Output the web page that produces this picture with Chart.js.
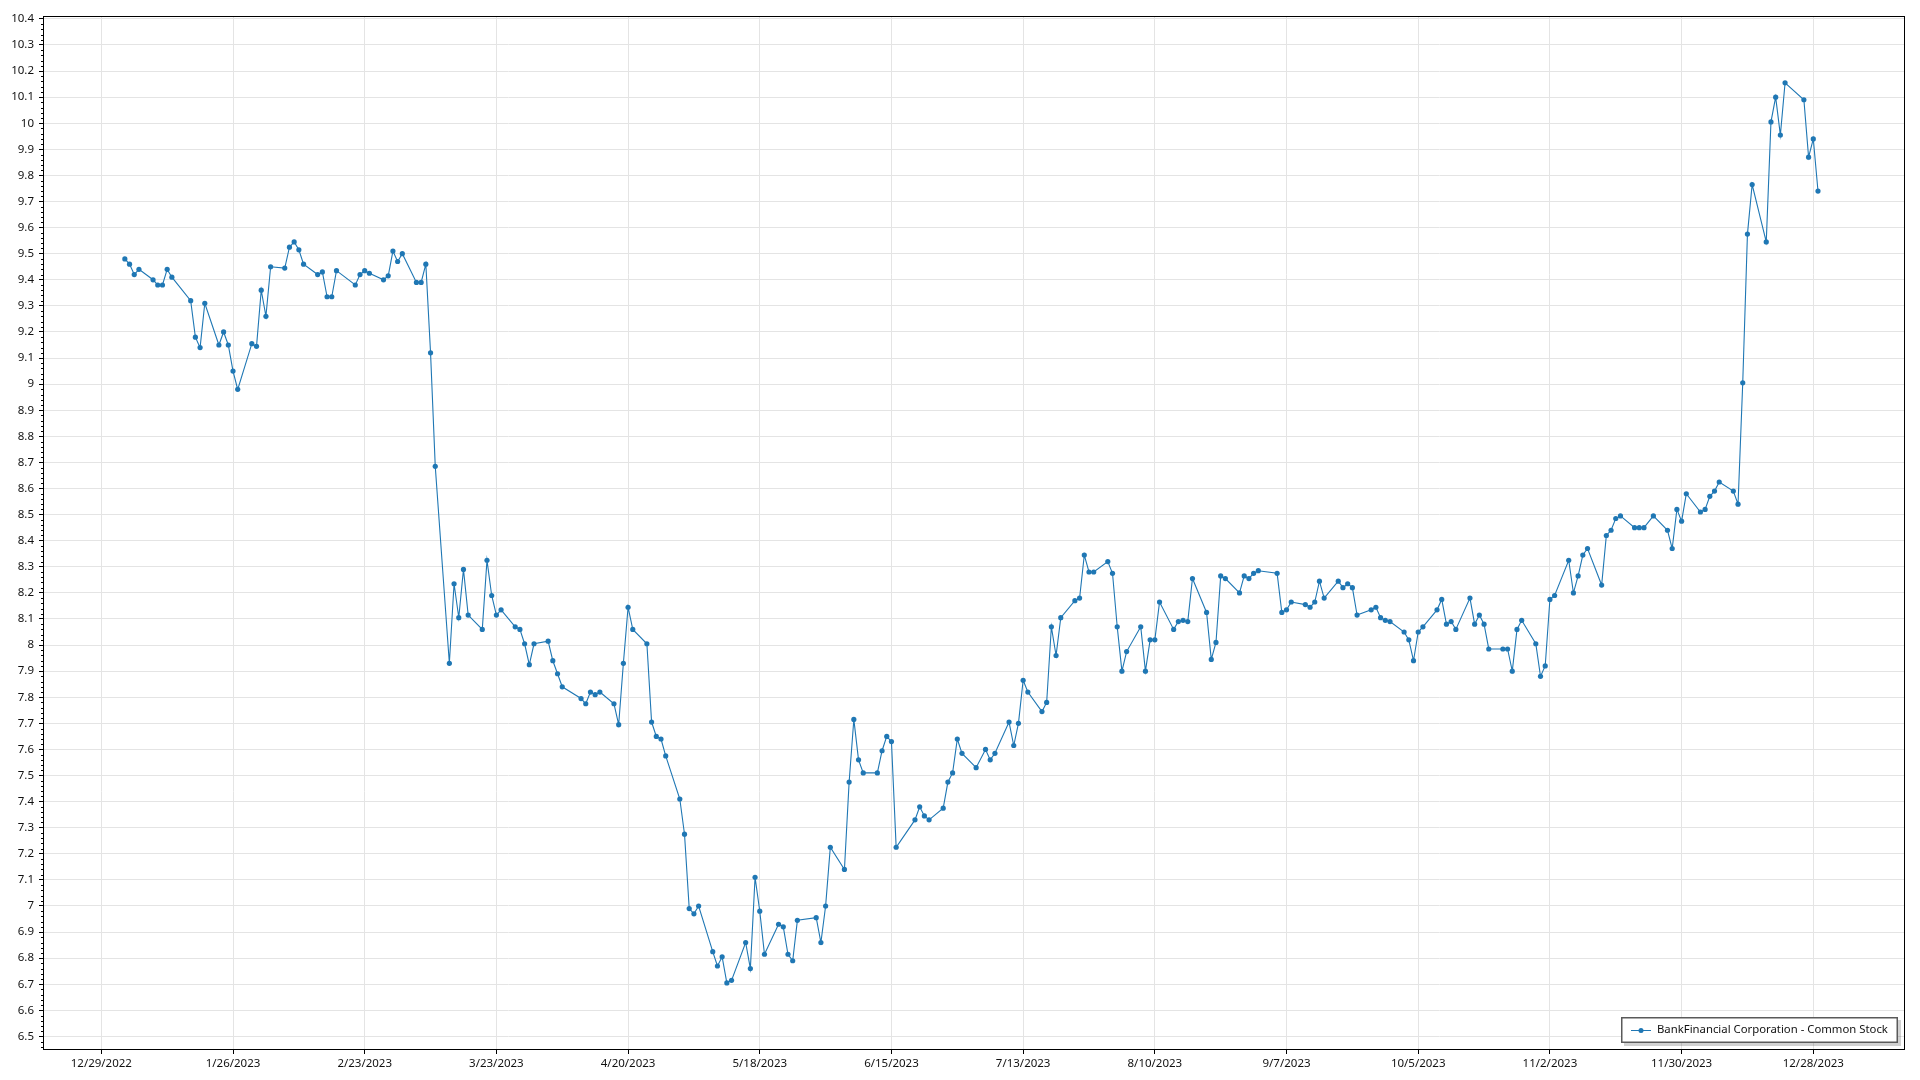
<!DOCTYPE html>
<html>
<head>
<meta charset="utf-8">
<script src="https://cdn.jsdelivr.net/npm/chart.js@4.4.0/dist/chart.umd.min.js"></script>
<style>
  html, body { margin: 0; padding: 0; background: #fff; }
  #wrap { width: 1920px; height: 1080px; }
</style>
</head>
<body>
<div id="wrap"><canvas id="grafico" width="1920" height="1080"></canvas></div>
<script>
const seriesLabel = "BankFinancial Corporation - Common Stock";

const dates = [
  "2023-01-03","2023-01-04","2023-01-05","2023-01-06","2023-01-09","2023-01-10","2023-01-11","2023-01-12","2023-01-13",
  "2023-01-17","2023-01-18","2023-01-19","2023-01-20","2023-01-23","2023-01-24","2023-01-25","2023-01-26","2023-01-27",
  "2023-01-30","2023-01-31","2023-02-01","2023-02-02","2023-02-03","2023-02-06","2023-02-07","2023-02-08","2023-02-09",
  "2023-02-10","2023-02-13","2023-02-14","2023-02-15","2023-02-16","2023-02-17","2023-02-21","2023-02-22","2023-02-23",
  "2023-02-24","2023-02-27","2023-02-28","2023-03-01","2023-03-02","2023-03-03","2023-03-06","2023-03-07","2023-03-08",
  "2023-03-09","2023-03-10","2023-03-13","2023-03-14","2023-03-15","2023-03-16","2023-03-17","2023-03-20","2023-03-21",
  "2023-03-22","2023-03-23","2023-03-24","2023-03-27","2023-03-28","2023-03-29","2023-03-30","2023-03-31","2023-04-03",
  "2023-04-04","2023-04-05","2023-04-06","2023-04-10","2023-04-11","2023-04-12","2023-04-13","2023-04-14","2023-04-17",
  "2023-04-18","2023-04-19","2023-04-20","2023-04-21","2023-04-24","2023-04-25","2023-04-26","2023-04-27","2023-04-28",
  "2023-05-01","2023-05-02","2023-05-03","2023-05-04","2023-05-05","2023-05-08","2023-05-09","2023-05-10","2023-05-11",
  "2023-05-12","2023-05-15","2023-05-16","2023-05-17","2023-05-18","2023-05-19","2023-05-22","2023-05-23","2023-05-24",
  "2023-05-25","2023-05-26","2023-05-30","2023-05-31","2023-06-01","2023-06-02","2023-06-05","2023-06-06","2023-06-07",
  "2023-06-08","2023-06-09","2023-06-12","2023-06-13","2023-06-14","2023-06-15","2023-06-16","2023-06-20","2023-06-21",
  "2023-06-22","2023-06-23","2023-06-26","2023-06-27","2023-06-28","2023-06-29","2023-06-30","2023-07-03","2023-07-05",
  "2023-07-06","2023-07-07","2023-07-10","2023-07-11","2023-07-12","2023-07-13","2023-07-14","2023-07-17","2023-07-18",
  "2023-07-19","2023-07-20","2023-07-21","2023-07-24","2023-07-25","2023-07-26","2023-07-27","2023-07-28","2023-07-31",
  "2023-08-01","2023-08-02","2023-08-03","2023-08-04","2023-08-07","2023-08-08","2023-08-09","2023-08-10","2023-08-11",
  "2023-08-14","2023-08-15","2023-08-16","2023-08-17","2023-08-18","2023-08-21","2023-08-22","2023-08-23","2023-08-24",
  "2023-08-25","2023-08-28","2023-08-29","2023-08-30","2023-08-31","2023-09-01","2023-09-05","2023-09-06","2023-09-07",
  "2023-09-08","2023-09-11","2023-09-12","2023-09-13","2023-09-14","2023-09-15","2023-09-18","2023-09-19","2023-09-20",
  "2023-09-21","2023-09-22","2023-09-25","2023-09-26","2023-09-27","2023-09-28","2023-09-29","2023-10-02","2023-10-03",
  "2023-10-04","2023-10-05","2023-10-06","2023-10-09","2023-10-10","2023-10-11","2023-10-12","2023-10-13","2023-10-16",
  "2023-10-17","2023-10-18","2023-10-19","2023-10-20","2023-10-23","2023-10-24","2023-10-25","2023-10-26","2023-10-27",
  "2023-10-30","2023-10-31","2023-11-01","2023-11-02","2023-11-03","2023-11-06","2023-11-07","2023-11-08","2023-11-09",
  "2023-11-10","2023-11-13","2023-11-14","2023-11-15","2023-11-16","2023-11-17","2023-11-20","2023-11-21","2023-11-22",
  "2023-11-24","2023-11-27","2023-11-28","2023-11-29","2023-11-30","2023-12-01","2023-12-04","2023-12-05","2023-12-06",
  "2023-12-07","2023-12-08","2023-12-11","2023-12-12","2023-12-13","2023-12-14","2023-12-15","2023-12-18","2023-12-19",
  "2023-12-20","2023-12-21","2023-12-22","2023-12-26","2023-12-27","2023-12-28","2023-12-29"
];

const prices = [
  9.48, 9.46, 9.42, 9.44, 9.40, 9.38, 9.38, 9.44, 9.41,
  9.32, 9.18, 9.14, 9.31, 9.15, 9.20, 9.15, 9.05, 8.98,
  9.155, 9.145, 9.36, 9.26, 9.45, 9.445, 9.525, 9.545, 9.515,
  9.46, 9.42, 9.43, 9.335, 9.335, 9.435, 9.38, 9.42, 9.435,
  9.425, 9.40, 9.415, 9.51, 9.47, 9.50, 9.39, 9.39, 9.46,
  9.12, 8.685, 7.93, 8.235, 8.105, 8.29, 8.115, 8.06, 8.325,
  8.19, 8.115, 8.135, 8.07, 8.06, 8.005, 7.925, 8.005, 8.015,
  7.94, 7.89, 7.84, 7.795, 7.775, 7.82, 7.81, 7.82, 7.775,
  7.695, 7.93, 8.145, 8.06, 8.005, 7.705, 7.65, 7.64, 7.575,
  7.41, 7.275, 6.99, 6.97, 7.00, 6.825, 6.77, 6.805, 6.705,
  6.715, 6.86, 6.76, 7.11, 6.98, 6.815, 6.93, 6.92, 6.815,
  6.79, 6.945, 6.955, 6.86, 7.00, 7.225, 7.14, 7.475, 7.715,
  7.56, 7.51, 7.51, 7.595, 7.65, 7.63, 7.225, 7.33, 7.38,
  7.345, 7.33, 7.375, 7.475, 7.51, 7.64, 7.585, 7.53, 7.60,
  7.56, 7.585, 7.705, 7.615, 7.70, 7.865, 7.82, 7.745, 7.78,
  8.07, 7.96, 8.105, 8.17, 8.18, 8.345, 8.28, 8.28, 8.32,
  8.275, 8.07, 7.90, 7.975, 8.07, 7.90, 8.02, 8.02, 8.165,
  8.06, 8.09, 8.095, 8.09, 8.255, 8.125, 7.945, 8.01, 8.265,
  8.255, 8.20, 8.265, 8.255, 8.275, 8.285, 8.275, 8.125, 8.135,
  8.165, 8.155, 8.145, 8.165, 8.245, 8.18, 8.245, 8.22, 8.235,
  8.22, 8.115, 8.135, 8.145, 8.105, 8.095, 8.09, 8.05, 8.02,
  7.94, 8.05, 8.07, 8.135, 8.175, 8.08, 8.09, 8.06, 8.18,
  8.08, 8.115, 8.08, 7.985, 7.985, 7.985, 7.90, 8.06, 8.095,
  8.005, 7.88, 7.92, 8.175, 8.19, 8.325, 8.20, 8.265, 8.345,
  8.37, 8.23, 8.42, 8.44, 8.485, 8.495, 8.45, 8.45, 8.45,
  8.495, 8.44, 8.37, 8.52, 8.475, 8.58, 8.51, 8.52, 8.57,
  8.59, 8.625, 8.59, 8.54, 9.005, 9.575, 9.765, 9.545, 10.005,
  10.10, 9.955, 10.155, 10.09, 9.87, 9.94, 9.74
];

const xTickDates = [
  "2022-12-29","2023-01-26","2023-02-23","2023-03-23","2023-04-20","2023-05-18","2023-06-15",
  "2023-07-13","2023-08-10","2023-09-07","2023-10-05","2023-11-02","2023-11-30","2023-12-28"
];
const xTickLabels = [
  "12/29/2022","1/26/2023","2/23/2023","3/23/2023","4/20/2023","5/18/2023","6/15/2023",
  "7/13/2023","8/10/2023","9/7/2023","10/5/2023","11/2/2023","11/30/2023","12/28/2023"
];
const yTicks = [
  6.5, 6.6, 6.7, 6.8, 6.9, 7.0, 7.1, 7.2, 7.3, 7.4, 7.5, 7.6, 7.7, 7.8, 7.9, 8.0, 8.1, 8.2, 8.3, 8.4,
  8.5, 8.6, 8.7, 8.8, 8.9, 9.0, 9.1, 9.2, 9.3, 9.4, 9.5, 9.6, 9.7, 9.8, 9.9, 10.0, 10.1, 10.2, 10.3, 10.4
];

const lineColor = "#1f77b4";
const fontFamily = "'Noto Sans', 'Open Sans', sans-serif";

// days counted from the first tick date
const dayZero = Date.UTC(2022, 11, 29);
function dayNumber(iso) {
  const p = iso.split("-").map(Number);
  return (Date.UTC(p[0], p[1] - 1, p[2]) - dayZero) / 86400000;
}

const points = dates.map((d, i) => ({ x: dayNumber(d), y: prices[i] }));

// frame, minor ticks and legend box
const extras = {
  id: "extras",
  afterDraw(chart) {
    const ctx = chart.ctx;
    const a = chart.chartArea;
    const ys = chart.scales.y;
    ctx.save();

    ctx.strokeStyle = "#000";
    ctx.lineWidth = 1;
    ctx.beginPath();
    for (let i = 0; i < yTicks.length; i++) {
      for (let k = 1; k < 5; k++) {
        const v = yTicks[i] + k * 0.02;
        if (v > ys.max) continue;
        const py = Math.round(ys.getPixelForValue(v)) + 0.5;
        ctx.moveTo(a.left, py);
        ctx.lineTo(a.left - 2, py);
      }
    }
    for (let k = 1; k < 5; k++) {
      const v = yTicks[0] - k * 0.02;
      if (v < ys.min) continue;
      const py = Math.round(ys.getPixelForValue(v)) + 0.5;
      ctx.moveTo(a.left, py);
      ctx.lineTo(a.left - 2, py);
    }
    ctx.stroke();

    ctx.strokeRect(Math.round(a.left) + 0.5, Math.round(a.top) + 0.5,
      Math.round(a.right - a.left) - 1, Math.round(a.bottom - a.top) - 1);

    // legend
    const w = 277, h = 26;
    const bx = Math.round(a.right - 7 - w), by = Math.round(a.bottom - 7 - h);
    ctx.fillStyle = "rgba(0,0,0,0.18)";
    ctx.fillRect(bx + 3, by + 3, w, h);
    ctx.fillStyle = "#fff";
    ctx.fillRect(bx, by, w, h);
    ctx.strokeStyle = "#5a5a5a";
    ctx.lineWidth = 1.5;
    ctx.strokeRect(bx + 0.75, by + 0.75, w - 1.5, h - 1.5);

    const cy = by + h / 2;
    ctx.strokeStyle = lineColor;
    ctx.lineWidth = 1;
    ctx.beginPath();
    ctx.moveTo(bx + 10, cy + 0.5);
    ctx.lineTo(bx + 30, cy + 0.5);
    ctx.stroke();
    ctx.fillStyle = lineColor;
    ctx.beginPath();
    ctx.arc(bx + 20, cy + 0.5, 2.5, 0, Math.PI * 2);
    ctx.fill();

    // shrink the label so it fits the box like the original
    ctx.font = "12px " + fontFamily;
    const tw = ctx.measureText(seriesLabel).width;
    const size = Math.min(12, 12 * 231 / tw);
    ctx.fillStyle = "#111";
    ctx.font = size.toFixed(2) + "px " + fontFamily;
    ctx.textBaseline = "middle";
    ctx.textAlign = "left";
    ctx.fillText(seriesLabel, bx + 36, cy);
    ctx.restore();
  }
};

const ctx = document.getElementById("grafico");

const grafico = new Chart(ctx, {
  type: "line",
  data: {
    datasets: [
      {
        label: seriesLabel,
        data: points,
        borderColor: lineColor,
        backgroundColor: lineColor,
        borderWidth: 1.1,
        pointRadius: 2.6,
        pointBorderWidth: 0,
        pointBackgroundColor: lineColor,
        tension: 0,
        fill: false
      }
    ]
  },
  options: {
    responsive: false,
    animation: false,
    events: [],
    layout: { padding: { top: 16, right: 15, left: 0, bottom: 0 } },
    plugins: {
      legend: { display: false },
      tooltip: { enabled: false }
    },
    scales: {
      x: {
        type: "linear",
        min: -12.4,
        max: 383.5,
        afterBuildTicks: (scale) => {
          scale.ticks = xTickDates.map((d) => ({ value: dayNumber(d) }));
        },
        afterFit: (scale) => { scale.height = 30; },
        ticks: {
          autoSkip: false,
          maxRotation: 0,
          padding: 3,
          color: "#111",
          font: { family: fontFamily, size: 11.5 },
          callback: (v, i) => xTickLabels[i]
        },
        grid: { color: "#e4e4e4", tickColor: "#000", tickLength: 4 },
        border: { display: false }
      },
      y: {
        type: "linear",
        min: 6.448,
        max: 10.411,
        afterBuildTicks: (scale) => {
          scale.ticks = yTicks.map((v) => ({ value: v }));
        },
        afterFit: (scale) => { scale.width = 43; },
        ticks: {
          padding: 5,
          color: "#111",
          font: { family: fontFamily, size: 11.5 },
          callback: (v) => String(Math.round(v * 10) / 10)
        },
        grid: { color: "#e4e4e4", tickColor: "#000", tickLength: 4 },
        border: { display: false }
      }
    }
  },
  plugins: [extras]
});
</script>
</body>
</html>
